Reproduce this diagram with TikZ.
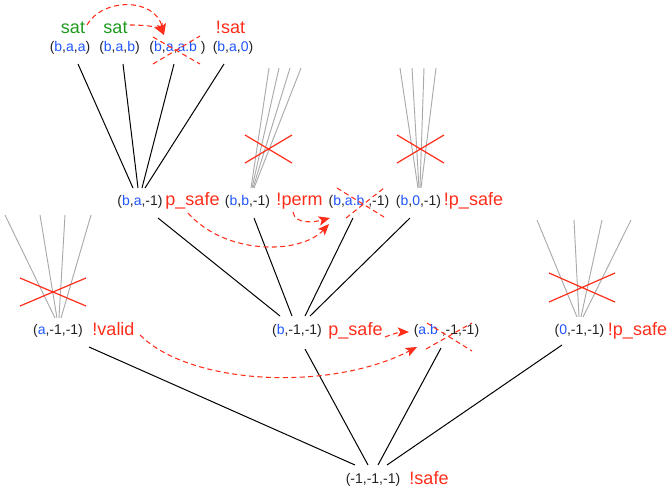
\documentclass[tikz,border=0pt]{standalone}
\usepackage{fontspec}
\setmainfont{Liberation Sans}
\usetikzlibrary{calc,arrows.meta}
\definecolor{tblue}{HTML}{1F55FF}
\definecolor{tred}{HTML}{FF2D1A}
\definecolor{tgreen}{HTML}{1E9A1E}
\definecolor{tblack}{HTML}{222222}
\definecolor{tgray}{HTML}{AAAAAA}
\newcommand\bl[1]{\textcolor{tblue}{#1}}
\begin{document}
\begin{tikzpicture}[x=0.75pt,y=-0.75pt,
 tup/.style={inner sep=0,anchor=base,text=tblack,font=\fontsize{10.5}{12}\selectfont},
 lab/.style={inner sep=0,anchor=base,font=\fontsize{13.5}{16}\selectfont},
 redlab/.style={lab,text=tred},
 greenlab/.style={lab,text=tgreen},
 edge/.style={draw=black,line width=0.75pt},
 pruned/.style={draw=tgray,line width=0.7pt},
 cross/.style={draw=tred,line width=0.9pt},
 dcross/.style={draw=tred,line width=0.8pt,dash pattern=on 3.75pt off 2.6pt},
 hint/.style={draw=tred,line width=0.8pt,dash pattern=on 3.75pt off 2.6pt,-{Stealth[length=8.5pt,width=7pt,inset=2pt]}},
]
\useasboundingbox (0,0) rectangle (667,489);
% row 1
\node[greenlab] (sat1) at (73,33) {sat};
\node[greenlab] (sat2) at (115.5,33) {sat};
\node[redlab] (nsat) at (230.5,33) {!sat};
\node[tup] (baa) at (70,51) {(\bl{b},\bl{a},\bl{a})};
\node[tup] (bab) at (119.5,51) {(\bl{b},\bl{a},\bl{b})};
\node[tup] (baab) at (177.5,51) {(\bl{b},\bl{a},\bl{a.b} )};
\node[tup] (ba0) at (233,51) {(\bl{b},\bl{a},\bl{0})};
% row 2
\node[tup] (ba1) at (140,205) {(\bl{b},\bl{a},-1)};
\node[redlab] (ps1) at (192.5,205) {p\_safe};
\node[tup] (bb1) at (247.5,205) {(\bl{b},\bl{b},-1)};
\node[redlab] (perm) at (299.5,205) {!perm};
\node[tup] (bab1) at (359,205) {(\bl{b},\bl{a.b} ,-1)};
\node[tup] (b01) at (418.5,205) {(\bl{b},\bl{0},-1)};
\node[redlab] (nps1) at (473.5,205) {!p\_safe};
% row 3
\node[tup] (am) at (58,334) {(\bl{a},-1,-1)};
\node[redlab] (valid) at (113.5,335) {!valid};
\node[tup] (bm) at (297,334) {(\bl{b},-1,-1)};
\node[redlab] (ps2) at (355.5,335) {p\_safe};
\node[tup] (abm) at (446.5,334) {(\bl{a.b} ,-1,-1)};
\node[tup] (zm) at (579.5,334) {(\bl{0},-1,-1)};
\node[redlab] (nps2) at (637.5,335) {!p\_safe};
% row 4
\node[tup] (root) at (373,483) {(-1,-1,-1)};
\node[redlab] (safe) at (429,484) {!safe};

% edges row1 -> row2
\draw[edge] ([shift={(8,13)}]baa.base) -- ([shift={(-7,-17)}]ba1.base);
\draw[edge] ([shift={(3.5,13)}]bab.base) -- ([shift={(-2,-17)}]ba1.base);
\draw[edge] ([shift={(-3.5,13)}]baab.base) -- ([shift={(2,-17)}]ba1.base);
\draw[edge] ([shift={(-9,13)}]ba0.base) -- ([shift={(5,-17)}]ba1.base);
% edges row2 -> row3
\draw[edge] ([shift={(18,13)}]ba1.base) -- ([shift={(-17,-18)}]bm.base);
\draw[edge] ([shift={(6.5,13)}]bb1.base) -- ([shift={(-5,-18)}]bm.base);
\draw[edge] ([shift={(-6,13)}]bab1.base) -- ([shift={(8,-18)}]bm.base);
\draw[edge] ([shift={(-8.5,13)}]b01.base) -- ([shift={(13,-18)}]bm.base);
% edges row3 -> root
\draw[edge] ([shift={(31,13)}]am.base) -- ([shift={(-18,-18)}]root.base);
\draw[edge] ([shift={(8,15)}]bm.base) -- ([shift={(-5,-18)}]root.base);
\draw[edge] ([shift={(-5.5,14)}]abm.base) -- ([shift={(5,-18)}]root.base);
\draw[edge] ([shift={(-17.5,11)}]zm.base) -- ([shift={(14,-18)}]root.base);

% pruned fans
\foreach \tx/\bx in {21.5/3.5, 31.5/4.5, 42.5/5.5, 53.5/6.5}
  \draw[pruned] ([shift={(\bx,-17)}]bb1.base) -- ([shift={(\tx,-137)}]bb1.base);
\foreach \tx/\bx in {-18.5/-0.5, -6.5/0.5, 5.5/1.5, 17.5/2.5}
  \draw[pruned] ([shift={(\bx,-17)}]b01.base) -- ([shift={(\tx,-137)}]b01.base);
\foreach \tx/\bx in {-53/-3, -18/-1, 7/1, 33/3}
  \draw[pruned] ([shift={(\bx,-16)}]am.base) -- ([shift={(\tx,-119)}]am.base);
\foreach \tx/\bx in {-42.5/-2.5, -5.5/-0.5, 22.5/1.5, 51.5/3.5}
  \draw[pruned] ([shift={(\bx,-17)}]zm.base) -- ([shift={(\tx,-114)}]zm.base);

% solid crosses
\draw[cross] (245,135) -- (292,163) (245,163) -- (292,135);
\draw[cross] (397,135) -- (444,163) (397,163) -- (444,135);
\draw[cross] (20,278) -- (86,306) (20,306) -- (86,278);
\draw[cross] (549,273) -- (615,302) (549,302) -- (615,273);

% dashed crosses
\draw[dcross] (153,37) -- (200,64) (153,64) -- (200,36);
\draw[dcross] (337,188) -- (384,217) (346,218) -- (384,188);
\draw[dcross] (427,323) -- (472,351) (426,349) -- (472,323);

% hint arrows
\draw[hint] ([shift={(14,-8)}]sat1.base) .. controls (102,-2) and (155,-3) .. ([shift={(-13.5,-16)}]baab.base);
\draw[hint] ([shift={(14.5,-8)}]sat2.base) .. controls (150,25) and (160,28) .. ([shift={(-13.5,-16)}]baab.base);
\draw[hint] ([shift={(-4.5,8)}]ps1.base) .. controls (225,255) and (300,255) .. ([shift={(-30,19)}]bab1.base);
\draw[hint] ([shift={(-6.5,7)}]perm.base) .. controls (295,225) and (315,222) .. ([shift={(-29,13)}]bab1.base);
\draw[hint] ([shift={(29.5,2)}]ps2.base) .. controls (393,334) and (400,332) .. ([shift={(-37.5,-2)}]abm.base);
\draw[hint] ([shift={(26.5,0)}]valid.base) .. controls (190,385) and (330,392) .. ([shift={(-29.5,13)}]abm.base);
\end{tikzpicture}
\end{document}
